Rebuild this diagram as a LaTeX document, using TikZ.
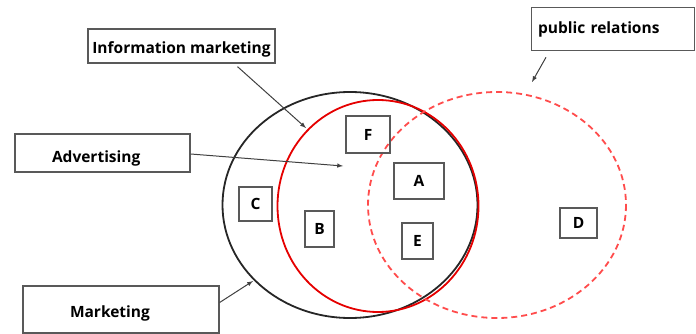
\documentclass[tikz,border=0pt]{standalone}
\usepackage{fontspec}
\setmainfont{Open Sans}
\begin{document}
\begin{tikzpicture}[x=1pt,y=-1pt,
  lbl/.style={draw=black!65,line width=1.3pt,inner sep=0pt,font=\bfseries\fontsize{15.5}{18}\selectfont},
  lt/.style={draw=black!65,line width=1.3pt,inner sep=0pt,font=\bfseries\fontsize{15.5}{18}\selectfont},
  arr/.style={draw=black!75,line width=1pt,-latex}]
\useasboundingbox (0,0) rectangle (696,334);
% circles
\draw[black!85,line width=1.8pt] (350,205) ellipse [x radius=127.5,y radius=113];
\draw[red!90!black,line width=1.8pt] (378,206) ellipse [x radius=100.5,y radius=106];
\draw[red!70,line width=1.8pt,dash pattern=on 6pt off 4pt] (497,205) ellipse [x radius=129,y radius=113];
% label boxes
\node[lbl,minimum width=187pt,minimum height=34pt,text height=15pt,text depth=0pt] (im) at (181.5,46) {Information marketing};
\node[lbl,minimum width=175pt,minimum height=38pt,text width=165pt,align=left,inner xsep=0pt,text height=18pt,text depth=0pt] (ad) at (102.5,153) {\hspace*{32pt}Advertising};
\node[lbl,minimum width=196pt,minimum height=47pt,text width=190pt,align=left,text height=15pt,text depth=0pt] (mk) at (121,309.5) {\hspace*{44pt}Marketing};
\node[lbl,minimum width=163pt,minimum height=43pt,anchor=north west,align=left,text width=150pt,inner xsep=6.5pt] (pr) at (531,7) {public relations};
% letters
\node[lt,minimum width=44pt,minimum height=37pt] (F) at (368,134.5) {F};
\node[lt,minimum width=50pt,minimum height=36pt] (A) at (419,181) {A};
\node[lt,minimum width=31pt,minimum height=36pt] (E) at (417.5,241) {E};
\node[lt,minimum width=37pt,minimum height=30pt] (D) at (578.5,223) {D};
\node[lt,minimum width=33pt,minimum height=34pt] (C) at (255.5,204) {C};
\node[lt,minimum width=29pt,minimum height=36pt] (B) at (319.5,229) {B};
% arrow targets
\coordinate (imT) at (306,128);
\coordinate (adT) at (343,166);
\coordinate (mkT) at (253,281);
\coordinate (prT) at (532,82);
\draw[arr] (im.south) ++(56,3) -- (imT);
\draw[arr] (ad.east) ++(0,1) -- (adT);
\draw[arr] (mk.east) ++(0,-7) -- (mkT);
\draw[arr] (pr.south west) ++(15,6) -- (prT);
\end{tikzpicture}
\end{document}
